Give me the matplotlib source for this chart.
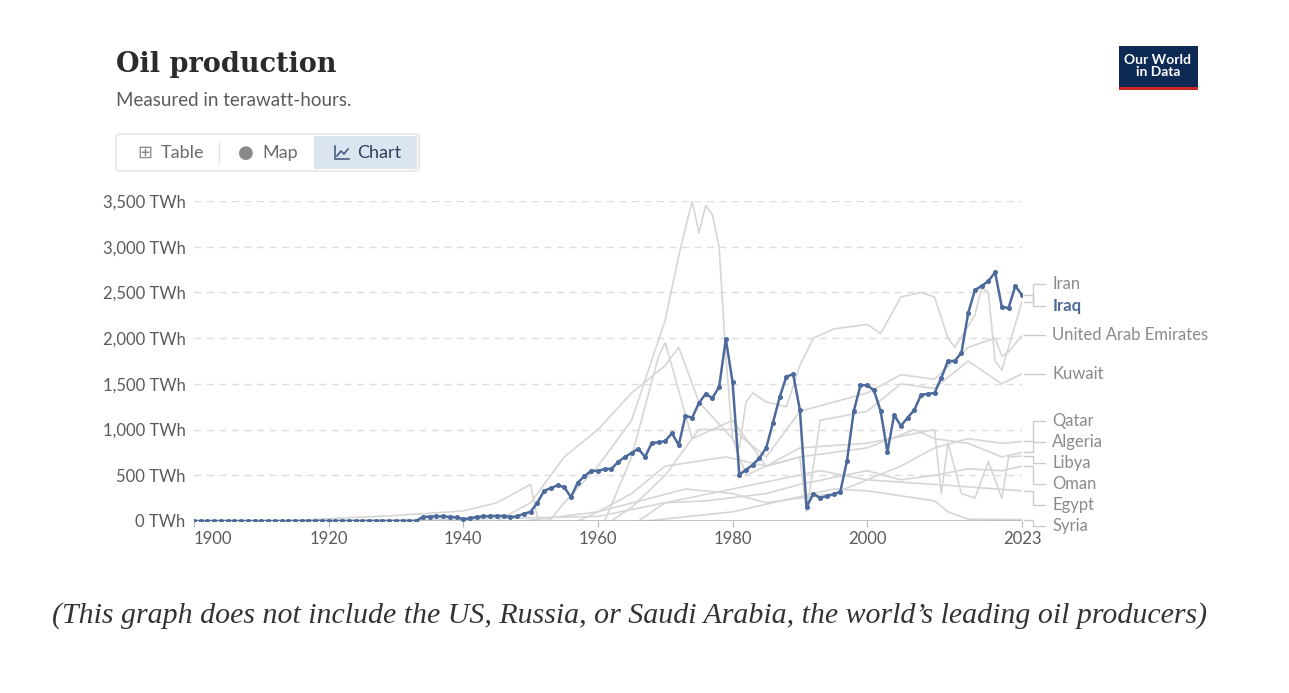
import numpy as np
import matplotlib.pyplot as plt
from matplotlib.patches import FancyBboxPatch, Rectangle
from matplotlib.lines import Line2D

plt.rcParams['font.family'] = ['Lato', 'DejaVu Sans']

# Iraq, yearly 1900-2023 (TWh)
iraq_years = list(range(1900, 2024))
iraq_values = ([0] * 34 +
               [45, 48, 52, 50, 45, 40, 20, 30, 45, 50, 55, 55, 55, 45, 50, 80, 100] +
               [200, 330, 360, 390, 370, 260, 420, 490, 550, 547, 569, 570, 645, 700,
                744, 790, 700, 853, 860, 875, 960, 830, 1150, 1130, 1290, 1390, 1345,
                1465, 1990, 1520, 505, 560, 615, 690, 800, 1075, 1355, 1580, 1605, 1215,
                150, 300, 250, 275, 290, 320, 660, 1200, 1485, 1485, 1430, 1200, 755,
                1160, 1040, 1130, 1215, 1380, 1390, 1400, 1565, 1750, 1750, 1840, 2275,
                2525, 2570, 2625, 2720, 2340, 2330, 2570, 2470])

# other countries, approximate key points (year, TWh)
others = {
    "Iran": ([1913, 1930, 1940, 1945, 1950, 1951, 1953, 1955, 1960, 1965, 1970, 1972, 1974,
              1975, 1976, 1977, 1978, 1979, 1980, 1981, 1982, 1983, 1985, 1988, 1990, 1992,
              1995, 2000, 2002, 2005, 2008, 2010, 2012, 2013, 2016, 2017, 2018, 2019, 2020,
              2021, 2023],
             [0, 60, 110, 200, 400, 40, 20, 200, 600, 1100, 2200, 2900, 3500, 3150, 3450, 3350,
              3000, 1800, 900, 800, 1300, 1400, 1300, 1250, 1700, 2000, 2100, 2150, 2050, 2450,
              2500, 2450, 2000, 1900, 2250, 2550, 2500, 1750, 1650, 1900, 2400]),
    "United Arab Emirates": ([1962, 1965, 1970, 1975, 1980, 1985, 1990, 1995, 2000, 2005,
                              2010, 2015, 2019, 2020, 2021, 2023],
                             [0, 150, 500, 1000, 1000, 700, 1200, 1300, 1400, 1600, 1550,
                              1900, 2000, 1800, 1850, 2030]),
    "Kuwait": ([1945, 1950, 1955, 1960, 1965, 1970, 1972, 1975, 1980, 1982, 1985, 1990, 1991,
                1992, 1993, 2000, 2005, 2010, 2015, 2020, 2023],
               [0, 200, 700, 1000, 1400, 1700, 1900, 1300, 900, 500, 600, 700, 100, 600, 1100,
                1200, 1500, 1450, 1750, 1500, 1610]),
    "Qatar": ([1949, 1960, 1973, 1980, 1985, 1995, 2000, 2005, 2010, 2015, 2020, 2023],
              [0, 100, 350, 300, 200, 300, 450, 600, 800, 900, 850, 870]),
    "Algeria": ([1957, 1960, 1965, 1970, 1979, 1985, 1990, 2000, 2007, 2010, 2015, 2020, 2023],
                [0, 100, 300, 600, 700, 600, 700, 800, 1000, 900, 850, 700, 750]),
    "Libya": ([1961, 1965, 1969, 1970, 1974, 1980, 1985, 1990, 2000, 2010, 2011, 2012, 2014,
               2016, 2018, 2020, 2021, 2023],
              [0, 700, 1800, 1950, 900, 1100, 600, 800, 850, 1000, 300, 850, 300, 250, 650,
               250, 700, 710]),
    "Oman": ([1966, 1970, 1976, 1985, 1990, 2000, 2005, 2010, 2015, 2020, 2023],
             [0, 200, 220, 300, 400, 550, 450, 500, 570, 550, 600]),
    "Egypt": ([1910, 1940, 1960, 1970, 1980, 1993, 2000, 2010, 2023],
              [0, 20, 50, 200, 350, 550, 450, 400, 330]),
    "Syria": ([1967, 1980, 1995, 2000, 2010, 2012, 2015, 2023],
              [0, 100, 350, 330, 220, 100, 20, 15]),
}

label_order = ["Iran", "Iraq", "United Arab Emirates", "Kuwait", "Qatar", "Algeria",
               "Libya", "Oman", "Egypt", "Syria"]
label_y = [2593, 2352, 2035, 1609, 1094, 864, 635, 405, 175, -55]

yticks = [0, 500, 1000, 1500, 2000, 2500, 3000, 3500]
xticks = [1900, 1920, 1940, 1960, 1980, 2000, 2023]

blue = "#4c6a9c"
grey = "#d6d6d6"
text_grey = "#5b5b5b"

fig = plt.figure(figsize=(12.89, 6.93), dpi=100)
ax = fig.add_axes([0.1505, 0.2482, 0.6424, 0.4618])

for name, (xs, ys) in others.items():
    ax.plot(xs, ys, color=grey, lw=1.2, zorder=1)
ax.plot(iraq_years, iraq_values, color=blue, lw=1.8, marker="o", ms=2.6, zorder=3)

ax.set_xlim(1900, 2023)
ax.set_ylim(0, 3500)
ax.set_yticks(yticks)
ax.set_yticklabels([f"{v:,} TWh" for v in yticks])
ax.set_xticks(xticks)
ax.set_xticklabels([str(v) for v in xticks])
ax.get_xticklabels()[0].set_horizontalalignment("left")
for v in yticks[1:]:
    ax.axhline(v, color="#dddddd", lw=1, ls=(0, (5, 4)), zorder=0)
ax.axhline(0, color="#b5b5b5", lw=1.2, zorder=2)
for s in ax.spines.values():
    s.set_visible(False)
ax.tick_params(axis="y", length=0, labelsize=12, labelcolor=text_grey, pad=6)
ax.tick_params(axis="x", length=4, color="#b5b5b5", labelsize=12, labelcolor=text_grey)

# end labels with connectors
ends = {"Iraq": iraq_values[-1]}
for name, (xs, ys) in others.items():
    ends[name] = ys[-1]
for name, ly in zip(label_order, label_y):
    ey = ends[name]
    ax.plot([2023.3, 2024.6, 2024.6, 2026.4], [ey, ey, ly, ly], color="#cccccc", lw=1,
            clip_on=False)
    bold = name == "Iraq"
    ax.text(2027.5, ly, name, va="center", ha="left", fontsize=12,
            color=blue if bold else "#8a8a8a", fontweight="bold" if bold else "normal",
            clip_on=False)

# header
fig.text(116 / 1289, 1 - 65 / 693, "Oil production", fontsize=19.5, family="DejaVu Serif",
         fontweight="bold", color="#2b2b2b", va="center")
fig.text(116 / 1289, 1 - 100 / 693, "Measured in terawatt-hours.", fontsize=13.5,
         color=text_grey, va="center")

# tab buttons
fig.patches.append(FancyBboxPatch((116 / 1289, 1 - 171 / 693), 303 / 1289, 37 / 693,
                                  boxstyle="round,pad=0,rounding_size=0.004",
                                  transform=fig.transFigure, fc="white", ec="#e2e2e2", lw=1))
fig.patches.append(Rectangle((314 / 1289, 1 - 169 / 693), 103 / 1289, 33 / 693,
                             transform=fig.transFigure, fc="#dbe5f0", ec="none"))
fig.lines.append(Line2D([219 / 1289, 219 / 1289], [1 - 143 / 693, 1 - 163 / 693],
                        transform=fig.transFigure, color="#e2e2e2", lw=1))
fig.text(161 / 1289, 1 - 153 / 693, "Table", fontsize=13, color="#6b6b6b", va="center")
fig.text(262 / 1289, 1 - 153 / 693, "Map", fontsize=13, color="#6b6b6b", va="center")
fig.text(357 / 1289, 1 - 153 / 693, "Chart", fontsize=13, color="#2d3e5c", va="center")
fig.text(137 / 1289, 1 - 153 / 693, "\u229e", fontsize=13, color="#8a8a8a", va="center",
         family="DejaVu Sans")
fig.text(238 / 1289, 1 - 153 / 693, "\u25cf", fontsize=13, color="#8a8a8a", va="center",
         family="DejaVu Sans")
# chart icon drawn as small line
ix = np.array([335, 335, 349]) / 1289
iy = 1 - np.array([146, 159, 159]) / 693
fig.lines.append(Line2D(ix, iy, transform=fig.transFigure, color="#4a5d80", lw=1.2))
fig.lines.append(Line2D(np.array([337, 341, 344, 348]) / 1289,
                        1 - np.array([156, 151, 154, 149]) / 693,
                        transform=fig.transFigure, color="#4a5d80", lw=1.2))

# logo
fig.patches.append(Rectangle((1119 / 1289, 1 - 90 / 693), 79 / 1289, 44 / 693,
                             transform=fig.transFigure, fc="#0d2a55", ec="none"))
fig.patches.append(Rectangle((1119 / 1289, 1 - 90 / 693), 79 / 1289, 3 / 693,
                             transform=fig.transFigure, fc="#ce261e", ec="none"))
fig.text(1158 / 1289, 1 - 66 / 693, "Our World\nin Data", fontsize=10, color="white",
         ha="center", va="center", linespacing=0.95, fontweight="bold")

# caption
fig.text(630 / 1289, 1 - 616 / 693,
         "(This graph does not include the US, Russia, or Saudi Arabia, the world\u2019s leading oil producers)",
         fontsize=21.5, family="Liberation Serif", style="italic", color="#333333",
         ha="center", va="center")

fig.savefig("out.png", dpi=100, facecolor="white")
